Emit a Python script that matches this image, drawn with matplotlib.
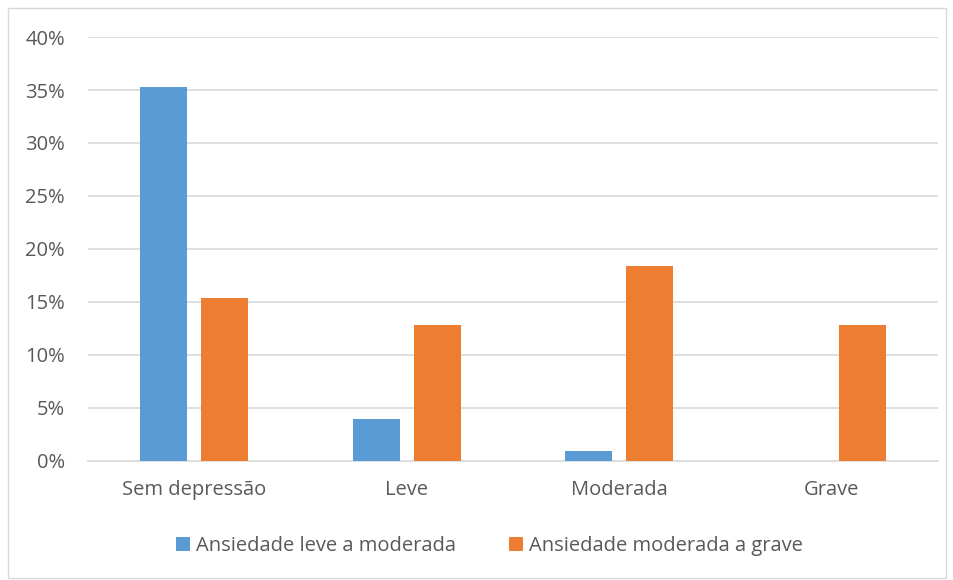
import matplotlib
matplotlib.use("Agg")
import matplotlib.pyplot as plt
from matplotlib.patches import Rectangle
import numpy as np

categories = ["Sem depressão", "Leve", "Moderada", "Grave"]
series_names = ["Ansiedade leve a moderada", "Ansiedade moderada a grave"]
leve_moderada = [35.3, 4.0, 0.95, 0.0]
moderada_grave = [15.4, 12.8, 18.4, 12.8]
y_ticks = [0, 5, 10, 15, 20, 25, 30, 35, 40]

blue = "#5B9BD5"
orange = "#ED7D31"
text_color = "#595959"
grid_color = "#D9D9D9"

plt.rcParams["font.family"] = ["Open Sans", "DejaVu Sans"]

fig = plt.figure(figsize=(9.54, 5.8), dpi=100)
ax = fig.add_axes([0.0922, 0.2052, 0.891, 0.731])

x = np.arange(len(categories))
width = 0.221
offset = 0.1435
b1 = ax.bar(x - offset, leve_moderada, width, color=blue, label=series_names[0], zorder=3)
b2 = ax.bar(x + offset, moderada_grave, width, color=orange, label=series_names[1], zorder=3)

ax.set_xlim(-0.5, len(categories) - 0.5)
ax.set_ylim(0, 40)
ax.set_yticks(y_ticks)
ax.set_yticklabels([f"{t}%" for t in y_ticks])
ax.set_xticks(x)
ax.set_xticklabels(categories)
ax.tick_params(axis="both", length=0, labelsize=14.5, colors=text_color)
ax.tick_params(axis="y", pad=16.5)
ax.tick_params(axis="x", pad=14)
ax.yaxis.grid(True, color=grid_color, linewidth=1.2, zorder=0)
for s in ["top", "right", "left"]:
    ax.spines[s].set_visible(False)
ax.spines["bottom"].set_color(grid_color)
ax.spines["bottom"].set_linewidth(1.2)

leg = fig.legend(handles=[b1, b2], loc="center", bbox_to_anchor=(0.513, 0.058),
                 ncol=2, frameon=False, fontsize=14.5, handlelength=0.7,
                 handleheight=0.7, handletextpad=0.3, columnspacing=2.6)
for t in leg.get_texts():
    t.set_color(text_color)

fig.patches.append(Rectangle((0.008, 0.003), 0.984, 0.984, transform=fig.transFigure,
                             fill=False, edgecolor="#D9D9D9", linewidth=1.0))

fig.savefig("out.png", dpi=100, facecolor="white")
